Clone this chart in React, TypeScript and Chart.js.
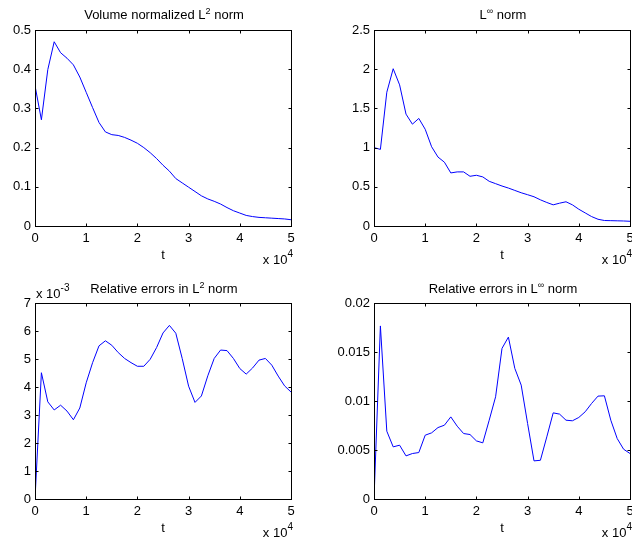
import React, { useEffect, useRef } from "react";
import { Chart, registerables } from "chart.js";

Chart.register(...registerables);

// time samples (x axis, plotted in units shown as "x 10^4")
const tValues = [
  0, 1250, 2500, 3750, 5000, 6250, 7500, 8750, 10000, 11250, 12500, 13750,
  15000, 16250, 17500, 18750, 20000, 21250, 22500, 23750, 25000, 26250, 27500,
  28750, 30000, 31250, 32500, 33750, 35000, 36250, 37500, 38750, 40000, 41250,
  42500, 43750, 45000, 46250, 47500, 48750, 50000,
];

const l2Norm = [
  0.358, 0.271, 0.399, 0.47, 0.442, 0.428, 0.411, 0.38, 0.341, 0.302, 0.264,
  0.24, 0.233, 0.231, 0.226, 0.219, 0.211, 0.2, 0.187, 0.172, 0.155, 0.14,
  0.121, 0.11, 0.099, 0.088, 0.077, 0.069, 0.063, 0.056, 0.047, 0.039, 0.033,
  0.027, 0.024, 0.022, 0.021, 0.02, 0.019, 0.018, 0.016,
];

const linfNorm = [
  1.0, 0.977, 1.706, 2.006, 1.8, 1.427, 1.299, 1.372, 1.234, 1.011, 0.879,
  0.814, 0.677, 0.69, 0.69, 0.634, 0.647, 0.626, 0.57, 0.54, 0.51, 0.484,
  0.454, 0.424, 0.399, 0.373, 0.334, 0.3, 0.27, 0.291, 0.309, 0.27, 0.214,
  0.167, 0.12, 0.086, 0.07, 0.068, 0.066, 0.064, 0.06,
];

const relErrL2 = [
  0, 0.00451, 0.00347, 0.00318, 0.00335, 0.00314, 0.00283, 0.00325, 0.00415,
  0.00487, 0.00547, 0.00565, 0.00549, 0.00523, 0.00502, 0.00487, 0.00474,
  0.00474, 0.00499, 0.00541, 0.00593, 0.0062, 0.00592, 0.00502, 0.00403,
  0.00345, 0.00368, 0.0044, 0.00502, 0.00532, 0.0053, 0.00502, 0.00466,
  0.00446, 0.00468, 0.00496, 0.00502, 0.00478, 0.00439, 0.00404, 0.00382,
];

const relErrLinf = [
  0, 0.01766, 0.00692, 0.00532, 0.00549, 0.0044, 0.00464, 0.00474, 0.00651,
  0.00675, 0.00729, 0.00753, 0.00838, 0.00743, 0.00668, 0.00658, 0.00593,
  0.00573, 0.00804, 0.01043, 0.01537, 0.01652, 0.01333, 0.01162, 0.0077,
  0.00389, 0.00395, 0.00634, 0.00879, 0.00866, 0.00804, 0.00798, 0.00832,
  0.0089, 0.00975, 0.0105, 0.01053, 0.00804, 0.00617, 0.00508, 0.00464,
];

const FONT = '"Liberation Sans", Arial, Helvetica, sans-serif';
const Y_AXIS_W = 50;
const CANVAS_W = Y_AXIS_W + 256 + 21;
const CANVAS_H = 272;

type Part = { text: string; sup?: boolean };

function drawRich(
  ctx: CanvasRenderingContext2D,
  parts: Part[],
  x: number,
  y: number,
  align: "left" | "center" | "right",
  size: number,
  supSize: number,
  supRise: number
) {
  ctx.save();
  ctx.fillStyle = "#000";
  ctx.textBaseline = "alphabetic";
  ctx.textAlign = "left";
  const widths = parts.map((p) => {
    ctx.font = `${p.sup ? supSize : size}px ${FONT}`;
    return ctx.measureText(p.text).width;
  });
  const total = widths.reduce((a, b) => a + b, 0);
  let cx = align === "left" ? x : align === "center" ? x - total / 2 : x - total;
  parts.forEach((p, i) => {
    ctx.font = `${p.sup ? supSize : size}px ${FONT}`;
    ctx.fillText(p.text, cx, p.sup ? y - supRise : y);
    cx += widths[i];
  });
  ctx.restore();
}

const fmt = (v: number) => String(parseFloat(Number(v).toFixed(6)));

type PanelCfg = {
  plotLeft: number;
  top: number;
  title: Part[];
  titleGap: number;
  values: number[];
  yMax: number;
  yStep: number;
  yLabel: (v: number) => string;
  exponent?: Part[];
};

const panels: PanelCfg[] = [
  {
    plotLeft: 35,
    top: 0,
    title: [{ text: "Volume normalized L" }, { text: "2", sup: true }, { text: " norm" }],
    titleGap: 11,
    values: l2Norm,
    yMax: 0.5,
    yStep: 0.1,
    yLabel: fmt,
  },
  {
    plotLeft: 374,
    top: 0,
    title: [{ text: "L" }, { text: "\u221E", sup: true }, { text: " norm" }],
    titleGap: 11,
    values: linfNorm,
    yMax: 2.5,
    yStep: 0.5,
    yLabel: fmt,
  },
  {
    plotLeft: 35,
    top: 273,
    title: [{ text: "Relative errors in L" }, { text: "2", sup: true }, { text: " norm" }],
    titleGap: 10,
    values: relErrL2,
    yMax: 0.007,
    yStep: 0.001,
    yLabel: (v: number) => String(Math.round(v * 1000)),
    exponent: [{ text: "x 10" }, { text: "-3", sup: true }],
  },
  {
    plotLeft: 374,
    top: 273,
    title: [{ text: "Relative errors in L" }, { text: "\u221E", sup: true }, { text: " norm" }],
    titleGap: 10,
    values: relErrLinf,
    yMax: 0.02,
    yStep: 0.005,
    yLabel: fmt,
  },
];

function Panel({ cfg }: { cfg: PanelCfg }) {
  const ref = useRef<HTMLCanvasElement>(null);
  useEffect(() => {
    const canvas = ref.current!;
    const decor = {
      id: "matlabDecor",
      afterDraw(chart: any) {
        const ctx: CanvasRenderingContext2D = chart.ctx;
        const a = chart.chartArea;
        const xs = chart.scales.x;
        const ys = chart.scales.y;
        ctx.save();
        ctx.strokeStyle = "#000";
        ctx.lineWidth = 1;
        ctx.strokeRect(a.left + 0.5, a.top + 0.5, a.right - a.left, a.bottom - a.top);
        const tl = 3;
        ctx.beginPath();
        xs.ticks.forEach((t: any) => {
          const px = Math.round(xs.getPixelForValue(t.value)) + 0.5;
          ctx.moveTo(px, a.bottom + 0.5);
          ctx.lineTo(px, a.bottom + 0.5 - tl);
          ctx.moveTo(px, a.top + 0.5);
          ctx.lineTo(px, a.top + 0.5 + tl);
        });
        ys.ticks.forEach((t: any) => {
          const py = Math.round(ys.getPixelForValue(t.value)) + 0.5;
          ctx.moveTo(a.left + 0.5, py);
          ctx.lineTo(a.left + 0.5 + tl, py);
          ctx.moveTo(a.right + 0.5, py);
          ctx.lineTo(a.right + 0.5 - tl, py);
        });
        ctx.stroke();
        ctx.restore();

        const cx = (a.left + a.right) / 2 + 1;
        drawRich(ctx, cfg.title, cx, a.top - cfg.titleGap, "center", 13, 9, 5);
        drawRich(ctx, [{ text: "t" }], cx - 1, a.bottom + 33, "center", 13, 9, 5);
        drawRich(
          ctx,
          [{ text: "x 10" }, { text: "4", sup: true }],
          a.right + 2,
          a.bottom + 38,
          "right",
          13,
          10,
          7
        );
        if (cfg.exponent) {
          drawRich(ctx, cfg.exponent, a.left + 1, a.top - 5, "left", 13, 10, 7);
        }
      },
    };
    const chart = new Chart(canvas, {
      type: "line",
      data: {
        datasets: [
          {
            data: tValues.map((t, i) => ({ x: t, y: cfg.values[i] })),
            borderColor: "#0000ff",
            borderWidth: 1,
            pointRadius: 0,
            tension: 0,
            fill: false,
          },
        ],
      },
      options: {
        responsive: false,
        animation: false,
        devicePixelRatio: 1,
        layout: { padding: { top: 30, right: 21, left: 0, bottom: 0 } },
        plugins: {
          legend: { display: false },
          tooltip: { enabled: false },
          title: { display: false },
        },
        scales: {
          x: {
            type: "linear",
            min: 0,
            max: 50000,
            afterFit: (s: any) => {
              s.height = 46;
            },
            grid: { display: false, drawTicks: false },
            border: { display: false },
            ticks: {
              stepSize: 10000,
              autoSkip: false,
              maxRotation: 0,
              padding: 5,
              color: "#000",
              font: { family: FONT, size: 13 },
              callback: (v: any) => String(Math.round(Number(v) / 10000)),
            },
          },
          y: {
            type: "linear",
            min: 0,
            max: cfg.yMax,
            afterFit: (s: any) => {
              s.width = Y_AXIS_W;
            },
            grid: { display: false, drawTicks: false },
            border: { display: false },
            ticks: {
              stepSize: cfg.yStep,
              autoSkip: false,
              padding: 4,
              color: "#000",
              font: { family: FONT, size: 13 },
              callback: (v: any) => cfg.yLabel(Number(v)),
            },
          },
        },
      } as any,
      plugins: [decor],
    });
    return () => chart.destroy();
  }, [cfg]);
  return (
    <canvas
      ref={ref}
      width={CANVAS_W}
      height={CANVAS_H}
      style={{
        position: "absolute",
        left: cfg.plotLeft - Y_AXIS_W,
        top: cfg.top,
        width: CANVAS_W,
        height: CANVAS_H,
      }}
    />
  );
}

export default function App() {
  return (
    <div
      style={{
        position: "fixed",
        left: 0,
        top: 0,
        width: 632,
        height: 542,
        overflow: "hidden",
        background: "#fff",
      }}
    >
      {panels.map((p, i) => (
        <Panel key={i} cfg={p} />
      ))}
    </div>
  );
}
